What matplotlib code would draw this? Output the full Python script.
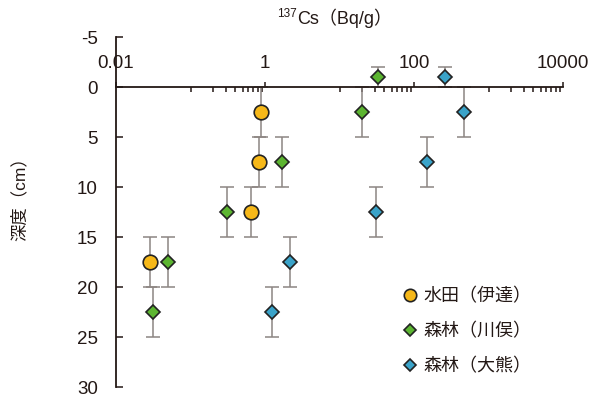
import matplotlib
matplotlib.use('Agg')
import matplotlib.pyplot as plt
from matplotlib.ticker import FixedLocator, NullFormatter
import numpy as np

plt.rcParams['font.family'] = ['Liberation Sans', 'Noto Sans CJK JP', 'DejaVu Sans']
plt.rcParams['axes.unicode_minus'] = False

# 水田（伊達）
paddy_depth = [2.5, 7.5, 12.5, 17.5]
paddy_cs = [0.88, 0.82, 0.64, 0.029]
paddy_err = [2.5, 2.5, 2.5, 2.5]

# 森林（川俣）
kawamata_depth = [-1, 2.5, 7.5, 12.5, 17.5, 22.5]
kawamata_cs = [33, 20, 1.69, 0.31, 0.050, 0.0315]
kawamata_err = [1, 2.5, 2.5, 2.5, 2.5, 2.5]

# 森林（大熊）
okuma_depth = [-1, 2.5, 7.5, 12.5, 17.5, 22.5]
okuma_cs = [261, 470, 150, 31, 2.15, 1.26]
okuma_err = [1, 2.5, 2.5, 2.5, 2.5, 2.5]

labels = ['水田（伊達）', '森林（川俣）', '森林（大熊）']
x_major = [0.01, 1, 100, 10000]
x_major_labels = ['0.01', '1', '100', '10000']
x_minor = [m * 10.0 ** e for e in (-1, 1, 3) for m in range(1, 10)]
y_ticks = [-5, 0, 5, 10, 15, 20, 25, 30]

axis_col = '#231815'
err_col = '#8c8582'

fig = plt.figure(figsize=(5.93, 3.96), dpi=100)
ax = fig.add_axes([116 / 593, 1 - 387 / 396, (563 - 116) / 593, 350 / 396])

series = [
    (paddy_cs, paddy_depth, paddy_err, 'o', '#f6b819', 10.5),
    (kawamata_cs, kawamata_depth, kawamata_err, 'D', '#5cb531', 6.8),
    (okuma_cs, okuma_depth, okuma_err, 'D', '#3aa3c9', 6.8),
]
for (xs, ys, es, mk, col, ms), lab in zip(series, labels):
    ax.errorbar(xs, ys, yerr=es, fmt='none', ecolor=err_col, elinewidth=1.1,
                capsize=5, capthick=1.1, zorder=2)
    ax.plot(xs, ys, linestyle='none', marker=mk, markersize=ms,
            markerfacecolor=col, markeredgecolor='#222222', markeredgewidth=1.2,
            label=lab, zorder=3)

ax.set_xscale('log')
ax.set_xlim(0.01, 10000)
ax.set_ylim(30, -5)

ax.spines['bottom'].set_visible(False)
ax.spines['right'].set_visible(False)
ax.spines['top'].set_position(('data', 0))
for s in ('top', 'left'):
    ax.spines[s].set_color(axis_col)
    ax.spines[s].set_linewidth(1.3)

ax.xaxis.set_ticks_position('top')
ax.xaxis.set_major_locator(FixedLocator(x_major))
ax.set_xticklabels(x_major_labels)
ax.xaxis.set_minor_locator(FixedLocator(x_minor))
ax.xaxis.set_minor_formatter(NullFormatter())
ax.tick_params(axis='x', which='major', direction='out', length=3.5, width=1.1,
               color=axis_col, pad=7, labelsize=13.5, labelcolor=axis_col)
ax.tick_params(axis='x', which='minor', direction='in', length=3.5, width=1.1,
               color=axis_col)

ax.set_yticks(y_ticks)
ax.tick_params(axis='y', direction='in', length=5, width=1.1, color=axis_col,
               pad=13, labelsize=13.5, labelcolor=axis_col)

# title: superscript mass number + unit
fig.text(297 / 593, 1 - 14 / 396, '137', ha='right', va='center',
         fontsize=8.5, color=axis_col)
fig.text(297 / 593, 1 - 18 / 396, 'Cs（Bq/g）', ha='left', va='center',
         fontsize=13, color=axis_col)
fig.text(19 / 593, 1 - 195 / 396, '深度（cm）', rotation=90, ha='center', va='center',
         fontsize=12.5, color=axis_col)

ax.legend(loc='upper left', bbox_to_anchor=(392 / 593, 1 - 279 / 396),
          bbox_transform=fig.transFigure, frameon=False, borderpad=0,
          handlelength=1.0, handletextpad=0.25, labelspacing=0.98,
          markerscale=0.85, fontsize=13, labelcolor=axis_col)

fig.savefig('out.png', dpi=100)
